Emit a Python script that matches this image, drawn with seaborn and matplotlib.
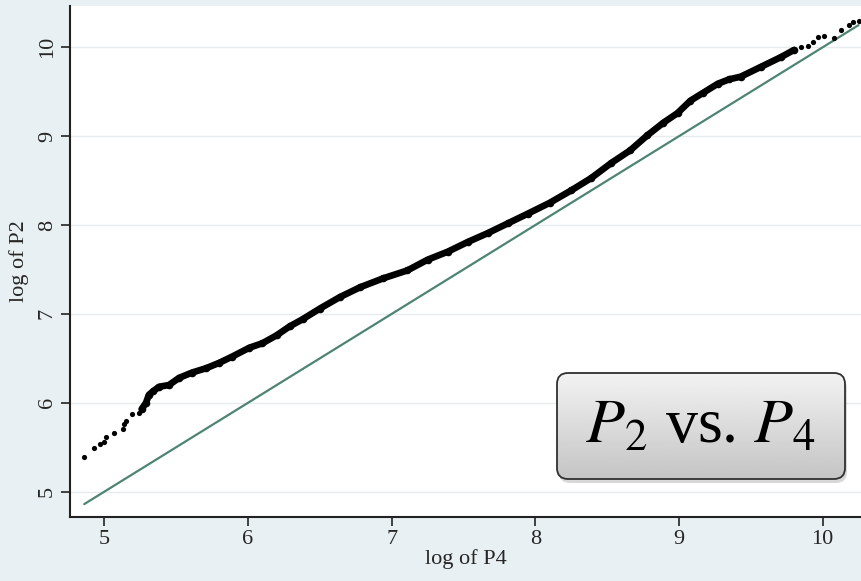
import numpy as np
import pandas as pd
import seaborn as sns
import matplotlib
matplotlib.use("Agg")
import matplotlib.pyplot as plt
from matplotlib.patches import FancyBboxPatch

# values (log of P4 vs log of P2)
tail_low_x = [4.86, 4.93, 4.97, 5.00, 5.01, 5.07, 5.13, 5.14, 5.15, 5.19, 5.24]
tail_low_y = [5.39, 5.49, 5.54, 5.56, 5.61, 5.66, 5.70, 5.76, 5.80, 5.87, 5.89]

band_x = [5.26, 5.29, 5.31, 5.34, 5.38, 5.45, 5.52, 5.61, 5.71, 5.80, 5.89, 6.01,
          6.10, 6.20, 6.29, 6.38, 6.50, 6.64, 6.78, 6.94, 7.11, 7.25, 7.39, 7.53,
          7.67, 7.81, 7.95, 8.10, 8.25, 8.39, 8.53, 8.66, 8.78, 8.89, 8.99, 9.08,
          9.17, 9.27, 9.35, 9.43, 9.57, 9.71, 9.80]
band_y = [5.93, 6.00, 6.09, 6.13, 6.18, 6.20, 6.28, 6.34, 6.39, 6.45, 6.52, 6.62,
          6.67, 6.76, 6.86, 6.94, 7.06, 7.19, 7.30, 7.40, 7.49, 7.61, 7.70, 7.81,
          7.91, 8.02, 8.13, 8.25, 8.39, 8.53, 8.70, 8.84, 9.01, 9.15, 9.26, 9.40,
          9.49, 9.59, 9.64, 9.67, 9.78, 9.89, 9.97]

tail_high_x = [9.85, 9.90, 9.93, 9.97, 10.01, 10.08, 10.13, 10.18, 10.21, 10.25]
tail_high_y = [10.00, 10.02, 10.06, 10.12, 10.13, 10.11, 10.19, 10.25, 10.28, 10.30]

ref_x = [4.86, 10.25]
ref_y = [4.86, 10.25]

xticks = [5, 6, 7, 8, 9, 10]
yticks = [5, 6, 7, 8, 9, 10]

sns.set_theme(style="white")
plt.rcParams['font.family'] = ['Liberation Serif', 'DejaVu Serif']
plt.rcParams['mathtext.fontset'] = 'stix'

bg = "#e9f0f3"
fig = plt.figure(figsize=(8.61, 5.81), dpi=100, facecolor=bg)
ax = fig.add_axes([70 / 861, 1 - 517 / 581, 791 / 861, 511 / 581])
ax.set_facecolor("white")

for yt in yticks:
    ax.axhline(yt, color="#e8ebed", lw=1, zorder=0)

sns.lineplot(x=ref_x, y=ref_y, ax=ax, color="#4e8474", lw=1.6, zorder=1)

band = pd.DataFrame({"x": band_x, "y": band_y})
sns.lineplot(data=band, x="x", y="y", ax=ax, color="black", lw=4.8,
             sort=False, zorder=2)
sns.scatterplot(data=band, x="x", y="y", ax=ax, color="black", s=30,
                marker="o", linewidth=0, zorder=3)
tails = pd.DataFrame({"x": tail_low_x + tail_high_x,
                      "y": tail_low_y + tail_high_y})
sns.scatterplot(data=tails, x="x", y="y", ax=ax, color="black", s=14,
                linewidth=0, zorder=3)

ax.set_xlim(4.761, 10.267)
ax.set_ylim(4.715, 10.465)
ax.set_xticks(xticks)
ax.set_yticks(yticks)
ax.tick_params(axis="both", direction="out", length=6.5, width=1.2,
               color="#222222", labelsize=16, pad=3, bottom=True, left=True)
for lab in ax.get_yticklabels():
    lab.set_rotation(90)
    lab.set_va("center")
ax.set_xlabel("log of P4", fontsize=16, labelpad=0)
ax.set_ylabel("log of P2", fontsize=16, labelpad=6)

for s in ["top", "right"]:
    ax.spines[s].set_visible(False)
for s in ["left", "bottom"]:
    ax.spines[s].set_color("#222222")
    ax.spines[s].set_linewidth(1.5)

# rounded label box with gradient and shadow
bx = fig.add_axes([550 / 861, 1 - 490 / 581, 304 / 861, 122 / 581])
bx.set_xlim(0, 304)
bx.set_ylim(0, 122)
bx.axis("off")
bx.patch.set_alpha(0)
shadow = FancyBboxPatch((9, 7), 288, 106, boxstyle="round,pad=0,rounding_size=11",
                        facecolor="#808080", edgecolor="none", alpha=0.3)
bx.add_patch(shadow)
box = FancyBboxPatch((7, 11), 288, 106, boxstyle="round,pad=0,rounding_size=11",
                     facecolor="none", edgecolor="#303030", lw=1.3, zorder=3)
bx.add_patch(box)
grad = np.linspace(0.95, 0.77, 100).reshape(-1, 1)
img = bx.imshow(grad, extent=[7, 295, 11, 117], cmap="gray", vmin=0, vmax=1,
                aspect="auto", origin="upper", zorder=2)
img.set_clip_path(box)
bx.text(151, 62, r"$P_2$ vs. $P_4$", fontsize=46, ha="center", va="center",
        color="black", zorder=4)

fig.savefig("out.png", dpi=100, facecolor=bg)
